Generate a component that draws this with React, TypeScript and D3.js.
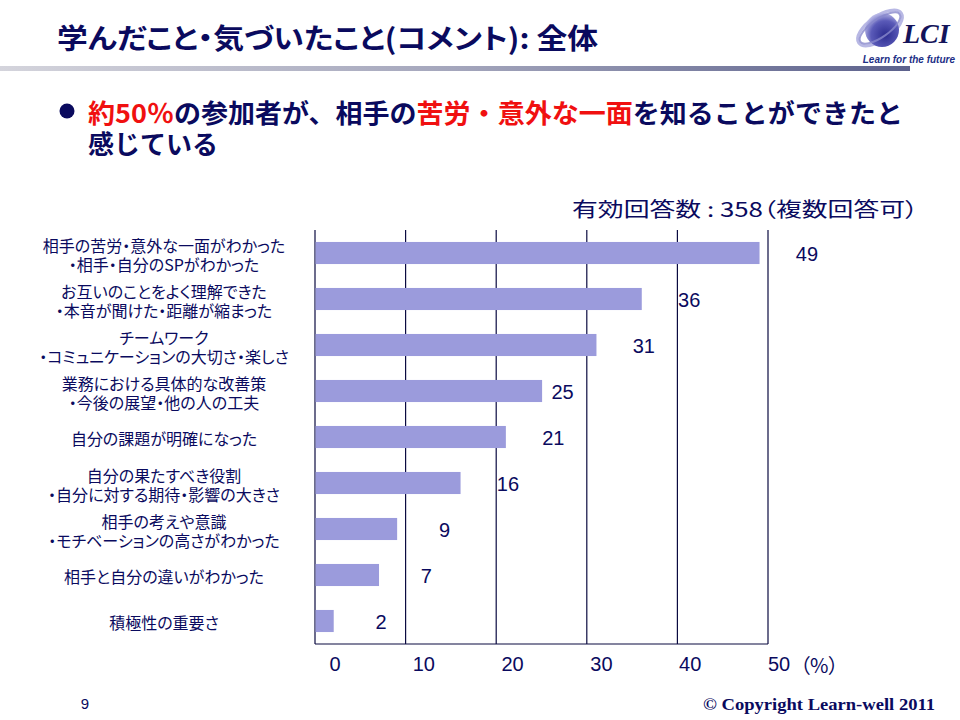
import React from "react";
import * as d3 from "d3";

const categories: string[] = [
  "相手の苦労・意外な一面がわかった\n・相手・自分のSPがわかった",
  "お互いのことをよく理解できた\n・本音が聞けた・距離が縮まった",
  "チームワーク\n・コミュニケーションの大切さ・楽しさ",
  "業務における具体的な改善策\n・今後の展望・他の人の工夫",
  "自分の課題が明確になった",
  "自分の果たすべき役割\n・自分に対する期待・影響の大きさ",
  "相手の考えや意識\n・モチベーションの高さがわかった",
  "相手と自分の違いがわかった",
  "積極性の重要さ",
];
const values: number[] = [49, 36, 31, 25, 21, 16, 9, 7, 2];
const tickValues: number[] = [0, 10, 20, 30, 40, 50];

const titleText = "学んだこと・気づいたこと(コメント): 全体";
const headerText = "有効回答数 : 358（複数回答可）";
const pageNumber = "9";
const copyrightText = "© Copyright Learn-well 2011";

const NAVY = "#0a0a5e";
const BAR = "#9b9bdc";
const RED = "#f01010";
const JP = "'Noto Sans CJK JP', 'Noto Sans', sans-serif";
const SANS = "'Liberation Sans', Arial, sans-serif";

export default function App() {
  const W = 960;
  const H = 720;
  const x = d3.scaleLinear().domain([0, 50]).range([315, 768]);
  const xLabel = d3.scaleLinear().domain([0, 50]).range([335, 779]);
  const y = d3
    .scaleBand<string>()
    .domain(categories)
    .range([230, 644])
    .paddingInner(0.52)
    .paddingOuter(0.26);

  const palt = { fontFeatureSettings: '"palt"' } as React.CSSProperties;

  return (
    <svg
      width={W}
      height={H}
      viewBox={`0 0 ${W} ${H}`}
      style={{ position: "absolute", left: 0, top: 0, background: "#fff" }}
    >
      <defs>
        <linearGradient id="rule" x1="0" x2="1" y1="0" y2="0">
          <stop offset="0" stopColor="#d4d4dc" />
          <stop offset="0.5" stopColor="#a4a6bc" />
          <stop offset="1" stopColor="#5c618c" />
        </linearGradient>
        <radialGradient id="ball" cx="0.6" cy="0.65" r="0.7">
          <stop offset="0" stopColor="#2c2c90" />
          <stop offset="0.6" stopColor="#5a5ab8" />
          <stop offset="1" stopColor="#c8c8ee" />
        </radialGradient>
      </defs>
      <rect x={0} y={0} width={W} height={H} fill="#fff" />

      {/* Title */}
      <text
        x={57}
        y={37}
        fontFamily={JP}
        fontSize={28}
        fontWeight={700}
        fill={NAVY}
        dominantBaseline="central"
        textLength={541}
        lengthAdjust="spacingAndGlyphs"
        style={palt}
      >
        {titleText}
      </text>
      <rect x={0} y={66} width={910} height={5} fill="url(#rule)" />

      {/* Logo */}
      <g>
        <ellipse cx={880} cy={28} rx={26} ry={12} fill="none" stroke="#b8b8e4" strokeWidth={3} transform="rotate(-35 880 28)" />
        <circle cx={882} cy={30} r={17} fill="url(#ball)" />
        <ellipse cx={880} cy={28} rx={24} ry={9} fill="none" stroke="#8888cc" strokeWidth={2} transform="rotate(-35 880 28)" opacity={0.8} />
        <text x={903} y={43} fontFamily="'Liberation Serif', serif" fontStyle="italic" fontWeight={700} fontSize={28} fill="#14145a">
          LCI
        </text>
        <text x={955} y={63} textAnchor="end" fontFamily={SANS} fontStyle="italic" fontWeight={700} fontSize={10} fill="#1d2f86">
          Learn for the future
        </text>
      </g>

      {/* Bullet */}
      <circle cx={67} cy={111} r={7.5} fill={NAVY} />
      <text
        x={88}
        y={111}
        fontFamily={JP}
        fontSize={26}
        fontWeight={700}
        fill={NAVY}
        dominantBaseline="central"
        textLength={815}
        lengthAdjust="spacingAndGlyphs"
      >
        <tspan fill={RED}>約50％</tspan>
        <tspan>の参加者が、相手の</tspan>
        <tspan fill={RED}>苦労・意外な一面</tspan>
        <tspan>を知ることができたと</tspan>
      </text>
      <text x={88} y={142} fontFamily={JP} fontSize={26} fontWeight={700} fill={NAVY} dominantBaseline="central">
        感じている
      </text>

      {/* Header */}
      <text
        x={572}
        y={208}
        fontFamily={JP}
        fontSize={20}
        fill={NAVY}
        dominantBaseline="central"
        textLength={346}
        lengthAdjust="spacingAndGlyphs"
        style={palt}
      >
        {headerText}
      </text>

      {/* Grid lines */}
      {tickValues.map((t) => (
        <line key={t} x1={x(t)} x2={x(t)} y1={230} y2={644} stroke="#0a0a40" strokeWidth={1.2} />
      ))}
      <line x1={x(0)} x2={x(50)} y1={644} y2={644} stroke="#0a0a40" strokeWidth={1.2} />

      {/* Bars */}
      {categories.map((c, i) => (
        <rect key={c} x={x(0) + 0.6} y={y(c)!} width={x(values[i]) - x(0)} height={y.bandwidth()} fill={BAR} />
      ))}

      {/* Value labels */}
      {categories.map((c, i) => (
        <text
          key={c}
          x={x(values[i]) + (i === 3 ? 21 : 48)}
          y={y(c)! + y.bandwidth() / 2 + 1}
          textAnchor="middle"
          dominantBaseline="central"
          fontFamily={SANS}
          fontSize={20}
          fill={NAVY}
        >
          {values[i]}
        </text>
      ))}

      {/* Category labels */}
      {categories.map((c) => {
        const lines = c.split("\n");
        const cy = y(c)! + y.bandwidth() / 2 + 1;
        const lh = 19;
        return (
          <text key={c} x={164} textAnchor="middle" fontFamily={JP} fontSize={16} fill={NAVY} dominantBaseline="central" style={palt}>
            {lines.map((l, j) => (
              <tspan key={j} x={164} y={cy + (j - (lines.length - 1) / 2) * lh}>
                {l}
              </tspan>
            ))}
          </text>
        );
      })}

      {/* Tick labels */}
      {tickValues.map((t) => (
        <text key={t} x={xLabel(t)} y={664} textAnchor="middle" dominantBaseline="central" fontFamily={SANS} fontSize={20} fill={NAVY}>
          {t}
        </text>
      ))}
      <text x={800} y={664} dominantBaseline="central" fontFamily={JP} fontSize={20} fill={NAVY} style={palt}>
        （%）
      </text>

      {/* Footer */}
      <text x={85} y={703} textAnchor="middle" dominantBaseline="central" fontFamily={SANS} fontSize={15} fill={NAVY}>
        {pageNumber}
      </text>
      <text
        x={703}
        y={704}
        dominantBaseline="central"
        fontFamily="'Liberation Serif', serif"
        fontWeight={700}
        fontSize={16}
        fill={NAVY}
        textLength={232}
        lengthAdjust="spacingAndGlyphs"
      >
        {copyrightText}
      </text>
    </svg>
  );
}
